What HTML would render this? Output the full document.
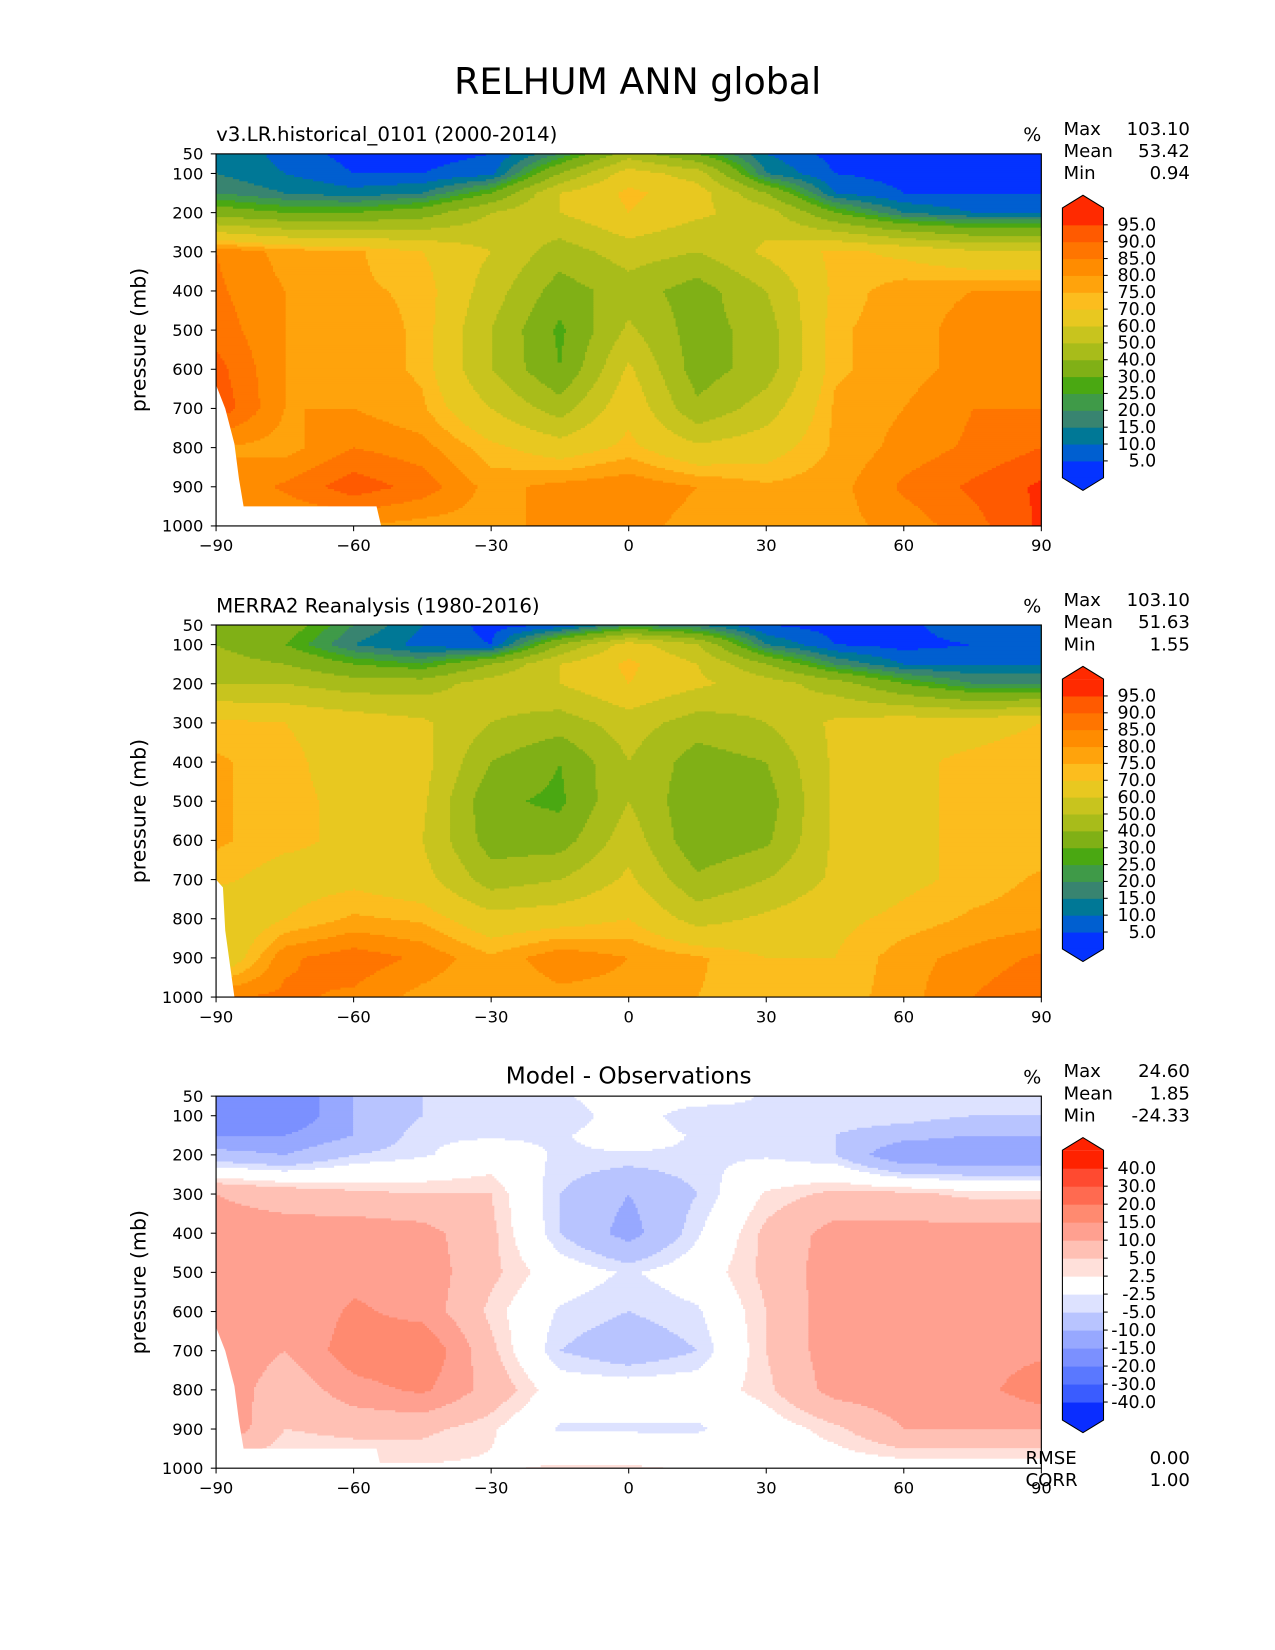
<!DOCTYPE html>
<html><head><meta charset="utf-8"><style>
html,body{margin:0;padding:0;background:#fff;}
svg{display:block;font-family:"DejaVu Sans","Liberation Sans",sans-serif;}
</style></head><body>
<svg id="fig" width="1275" height="1650" viewBox="0 0 1209.7 1565.5" xmlns="http://www.w3.org/2000/svg">
<text x="605" y="89" font-size="34.5" text-anchor="middle">RELHUM ANN global</text>
</svg>
<script>
// ---- data ----
const lats = [-90,-75,-60,-45,-30,-15,0,15,30,45,60,75,90];
const plevs = [50,100,150,200,300,400,500,600,700,800,900,1000];
const modelRH = [
 [15,8,3,3,5,20,45,30,10,3,3,3,3],
 [15,10,5,5,8,40,65,55,15,5,3,3,3],
 [20,15,12,15,30,60,72,65,40,10,5,5,5],
 [35,30,30,35,50,60,70,62,55,30,15,10,10],
 [85,78,76,70,60,45,55,50,62,72,68,62,62],
 [86,80,76,74,55,35,45,35,50,72,78,80,80],
 [88,80,78,74,50,28,52,35,45,74,78,82,82],
 [92,80,78,74,50,30,62,35,45,74,78,82,82],
 [94,80,80,76,60,45,68,42,55,76,80,85,85],
 [80,78,85,82,72,65,72,62,66,76,82,86,90],
 [80,86,93,88,78,82,84,80,76,78,86,91,96],
 [80,80,80,78,78,82,82,78,78,78,82,88,96]];
const obsRH = [
 [40,35,20,10,3,5,20,15,5,3,3,10,10],
 [40,30,15,8,5,40,65,50,15,5,3,5,10],
 [45,40,30,25,40,60,72,60,40,20,10,10,10],
 [50,50,45,45,55,60,70,62,55,45,30,20,20],
 [72,70,66,62,50,45,55,45,50,62,66,66,70],
 [76,72,66,64,40,30,50,35,40,62,68,72,75],
 [76,72,68,62,32,28,50,32,35,62,68,72,74],
 [76,72,68,60,35,35,56,32,38,62,68,72,72],
 [72,66,68,64,45,50,62,42,50,62,68,72,76],
 [60,70,76,74,64,66,70,56,62,68,72,76,78],
 [60,84,88,84,76,84,80,76,70,70,78,82,86],
 [85,86,84,78,75,78,78,75,72,72,78,85,90]];
const diffRH = [
 [-15,-20,-10,-5,-3,-3,0,0,-3,-3,-3,-3,-3],
 [-20,-20,-10,-5,-5,-5,0,-5,-3,-3,-3,-5,-5],
 [-15,-15,-10,-3,-3,-3,0,-3,-3,-5,-8,-10,-10],
 [-8,-10,-5,-3,0,-3,-3,-3,-3,-5,-15,-15,-15],
 [10,8,6,5,5,-5,-10,-5,3,6,6,4,4],
 [12,12,13,12,6,-5,-12,-3,6,12,12,12,12],
 [10,10,13,13,6,0,-3,0,6,13,13,13,13],
 [12,10,16,13,4,-3,-5,-3,5,13,13,13,13],
 [15,10,18,20,6,-5,-8,-5,5,13,13,13,14],
 [15,6,13,16,8,0,0,0,4,12,13,13,18],
 [15,5,6,6,3,-3,-3,-3,0,4,10,10,10],
 [2,2,2,2,2,3,3,2,0,0,0,0,0]];
const rhLevels = [5,10,15,20,25,30,40,50,60,70,75,80,85,90,95];
const rhLevelLabels = ["5.0","10.0","15.0","20.0","25.0","30.0","40.0","50.0","60.0","70.0","75.0","80.0","85.0","90.0","95.0"];
const diffLevels = [-40,-30,-20,-15,-10,-5,-2.5,2.5,5,10,15,20,30,40];
const diffLevelLabels = ["-40.0","-30.0","-20.0","-15.0","-10.0","-5.0","-2.5","2.5","5.0","10.0","15.0","20.0","30.0","40.0"];
const xTicks = [-90,-60,-30,0,30,60,90];
const xTickLabels = ["\u221290","\u221260","\u221230","0","30","60","90"];
const yTicks = [50,100,200,300,400,500,600,700,800,900,1000];
const statsModel = ["103.10","53.42","0.94"];
const statsObs = ["103.10","51.63","1.55"];
const statsDiff = ["24.60","1.85","-24.33"];
const maskModel = [[-90,640],[-88,700],[-86,790],[-85,880],[-84,950],[-55,950],[-54,1000],[-90,1000]];
const maskObs = [[-90,700],[-88.5,720],[-88,830],[-86,1000],[-90,1000]];

const rhColors = ['#0433ff','#005fd0','#007896','#388470','#3f9a48','#4aa812','#80b016','#a8bc1a','#c8c41e','#e8c820','#fcbd1e','#ffa30c','#ff8c00','#ff7500','#ff5a00','#ff2a00'];
const diffColors = ['#0a2dff','#3a5cff','#5a78ff','#7b90ff','#97a8ff','#b8c4ff','#dde2ff','#ffffff','#ffe0da','#ffc0b4','#ffa090','#ff8a70','#ff6a50','#ff4a30','#ff2200'];

const NS = "http://www.w3.org/2000/svg";
const svg = document.getElementById('fig');
const X0 = 205, X1 = 988, PH = 353;
function mk(tag, attrs, parent){const e=document.createElementNS(NS,tag);for(const k in attrs)e.setAttribute(k,attrs[k]);(parent||svg).appendChild(e);return e;}
function xOf(la){return X0+(la+90)/180*(X1-X0);}
function yOf(p,top){return top+(p-50)/950*PH;}
function bin(v,levels){let i=0;while(i<levels.length&&v>=levels[i])i++;return i;}
function sample(grid,la,p){
  la=Math.max(-90,Math.min(90,la));
  let i=0;while(i<lats.length-2&&la>lats[i+1])i++;
  let j=0;while(j<plevs.length-2&&p>plevs[j+1])j++;
  const tx=Math.min(1,Math.max(0,(la-lats[i])/(lats[i+1]-lats[i])));
  const ty=Math.min(1,Math.max(0,(p-plevs[j])/(plevs[j+1]-plevs[j])));
  const a=grid[j][i],b=grid[j][i+1],c=grid[j+1][i],d=grid[j+1][i+1];
  return (a*(1-tx)+b*tx)*(1-ty)+(c*(1-tx)+d*tx)*ty;
}
function panel(name,top,grid,levels,colors,mask,title,titleCentered,stats,cbLabels){
  const g=mk('g',{});
  
  
  const field=mk('g',{},g);
  
  
  const cw=2,ch=2;
  const nx=Math.ceil((X1-X0)/cw);
  for(let y=top;y<top+PH;y+=ch){
    const p=50+(y+ch/2-top)/PH*950;
    let runStart=X0,runC=-1;
    for(let k=0;k<=nx;k++){
      const x=X0+k*cw;
      let c=-2;
      if(k<nx){const la=-90+(Math.min(x+cw/2,X1)-X0)/(X1-X0)*180;c=bin(sample(grid,la,p),levels);}
      if(c!==runC){
        if(runC>=0){const w=Math.min(x,X1)-runStart;mk('rect',{x:runStart,y:y,width:Math.min(w+0.6,X1-runStart),height:Math.min(ch+0.6,top+PH-y),fill:colors[runC]},field);}
        runStart=x;runC=c;
      }
    }
  }
  if(mask){
    const pm=mk('polygon',{points:mask.map(q=>xOf(q[0])+','+yOf(q[1],top)).join(' '),fill:'#fff'},g);
    
    
  }
  const fr=mk('rect',{x:X0,y:top,width:X1-X0,height:PH,fill:'none',stroke:'#000','stroke-width':1.1},g);
  
  
  xTicks.forEach((t,k)=>{
    const x=xOf(t);
    mk('line',{x1:x,x2:x,y1:top+PH,y2:top+PH+5,stroke:'#000','stroke-width':1},g);
    const tl=mk('text',{x:x,y:top+PH+24,'font-size':15.5,'text-anchor':'middle'},g);tl.textContent=xTickLabels[k];
    
    
  });
  yTicks.forEach(t=>{
    const y=yOf(t,top);
    mk('line',{x1:X0-5,x2:X0,y1:y,y2:y,stroke:'#000','stroke-width':1},g);
    const tl=mk('text',{x:X0-12,y:y+5.5,'font-size':15.5,'text-anchor':'end'},g);tl.textContent=t;
    
    
  });
  const yt=mk('text',{x:138,y:top+PH/2,'font-size':19.5,'text-anchor':'middle',transform:'rotate(-90 138 '+(top+PH/2)+')'},g);yt.textContent='pressure (mb)';
  
  
  const st=mk('text',titleCentered?{x:(X0+X1)/2,y:top-12,'font-size':22,'text-anchor':'middle'}:{x:X0,y:top-12,'font-size':18.8},g);st.textContent=title;
  
  
  const un=mk('text',{x:988,y:top-12,'font-size':18,'text-anchor':'end'},g);un.textContent='%';
  
  
  ['Max','Mean','Min'].forEach((lab,k)=>{
    const a=mk('text',{x:1009,y:top-18+k*21,'font-size':17.2},g);a.textContent=lab;
    
    
    const b=mk('text',{x:1129,y:top-18+k*21,'font-size':17.2,'text-anchor':'end'},g);b.textContent=stats[k];
    
    
  });
  const cb=mk('g',{},g);
  
  
  const cx0=1008,cx1=1047,cTop=top+51.3,cBot=top+307.3,n=colors.length,bh=(cBot-cTop)/n;
  for(let k=0;k<n;k++){
    const y=cBot-(k+1)*bh;
    mk('rect',{x:cx0,y:y,width:cx1-cx0,height:bh+0.5,fill:colors[k]},cb);
  }
  mk('polygon',{points:`${cx0},${cTop} ${(cx0+cx1)/2},${cTop-12} ${cx1},${cTop}`,fill:colors[n-1]},cb);
  mk('polygon',{points:`${cx0},${cBot} ${(cx0+cx1)/2},${cBot+12} ${cx1},${cBot}`,fill:colors[0]},cb);
  mk('path',{d:`M${cx0},${cTop} L${(cx0+cx1)/2},${cTop-12} L${cx1},${cTop} L${cx1},${cBot} L${(cx0+cx1)/2},${cBot+12} L${cx0},${cBot} Z`,fill:'none',stroke:'#000','stroke-width':1},cb);
  cbLabels.forEach((lab,k)=>{
    const y=cBot-(k+1)*bh;
    mk('line',{x1:cx1,x2:cx1+4,y1:y,y2:y,stroke:'#000','stroke-width':1},cb);
    const t=mk('text',{x:1097,y:y+5.5,'font-size':16.5,'text-anchor':'end'},cb);t.textContent=lab;
    
    
  });
}
panel('model-panel',146,modelRH,rhLevels,rhColors,maskModel,'v3.LR.historical_0101 (2000-2014)',false,statsModel,rhLevelLabels);
panel('obs-panel',593,obsRH,rhLevels,rhColors,maskObs,'MERRA2 Reanalysis (1980-2016)',false,statsObs,rhLevelLabels);
panel('diff-panel',1040,diffRH,diffLevels,diffColors,maskModel,'Model - Observations',true,statsDiff,diffLevelLabels);
[['RMSE','0.00',1389],['CORR','1.00',1410]].forEach(r=>{
  const a=mk('text',{x:973,y:r[2],'font-size':17.2});a.textContent=r[0];
  
  
  const b=mk('text',{x:1129,y:r[2],'font-size':17.2,'text-anchor':'end'});b.textContent=r[1];
  
  
});
</script>
</body></html>
